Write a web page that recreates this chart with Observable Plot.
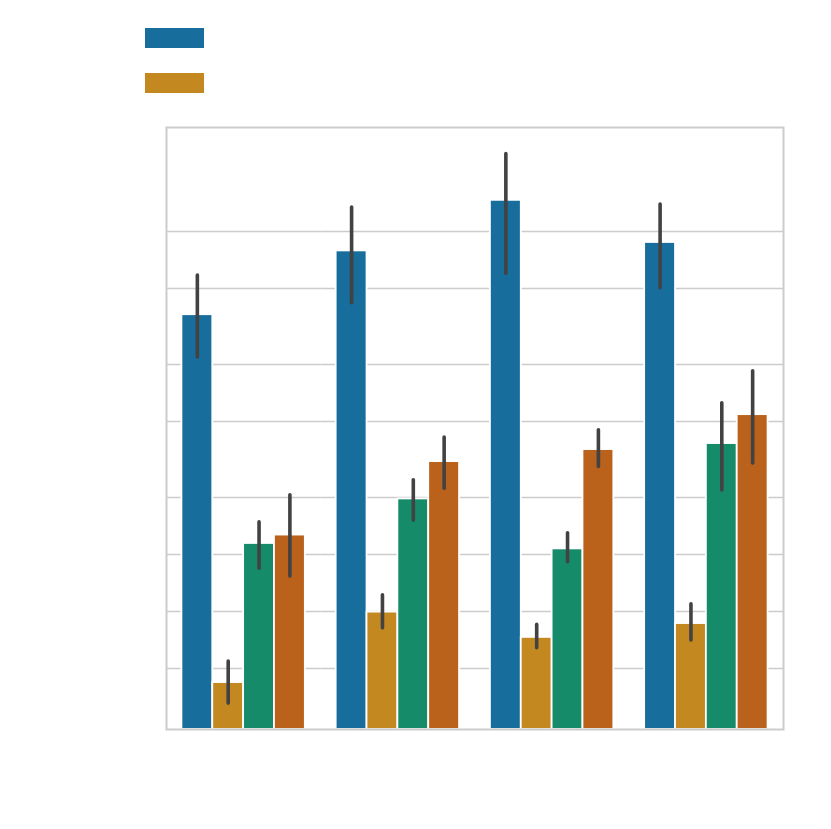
<!DOCTYPE html>
<html>
<head>
<meta charset="utf-8">
<script src="https://cdn.jsdelivr.net/npm/d3@7"></script>
<script src="https://cdn.jsdelivr.net/npm/@observablehq/plot@0.6"></script>
<style>
  html, body { margin: 0; padding: 0; background: #ffffff; }
  #wrap { position: relative; width: 831px; height: 829px; font-family: "DejaVu Sans", sans-serif; }
  #legend { position: absolute; left: 145px; top: 28px; }
  .sw { width: 59px; height: 20px; margin-bottom: 25px; }
</style>
</head>
<body>
<div id="wrap"><div id="legend"></div></div>
<script>
// categories
const groups = ["G1", "G2", "G3", "G4"];
const hues = ["H1", "H2", "H3", "H4"];
const hueColors = ["#176d9c", "#c38820", "#168b6a", "#ba611b"];
const legendHues = ["H1", "H2"];

// bar heights per hue, across groups
const h1Vals = [68.9, 79.5, 87.9, 80.9];
const h2Vals = [7.8, 19.5, 15.3, 17.6];
const h3Vals = [30.9, 38.3, 30.0, 47.5];
const h4Vals = [32.3, 44.5, 46.5, 52.3];

// error bar ranges per hue, across groups
const h1Lo = [61.8, 70.8, 75.7, 73.3];
const h1Hi = [75.4, 86.7, 95.6, 87.2];
const h2Lo = [4.3, 16.8, 13.5, 14.8];
const h2Hi = [11.3, 22.3, 17.4, 20.8];
const h3Lo = [26.7, 34.7, 27.8, 39.7];
const h3Hi = [34.4, 41.4, 32.6, 54.2];
const h4Lo = [25.4, 40.0, 43.6, 44.2];
const h4Hi = [38.9, 48.5, 49.7, 59.5];

// y gridline values
const gridTicks = [10.13, 19.6, 29.07, 38.54, 51.16, 60.63, 73.26, 82.72];

const valsByHue = [h1Vals, h2Vals, h3Vals, h4Vals];
const loByHue = [h1Lo, h2Lo, h3Lo, h4Lo];
const hiByHue = [h1Hi, h2Hi, h3Hi, h4Hi];

const rows = [];
groups.forEach((g, gi) => {
  hues.forEach((h, hi) => {
    rows.push({group: g, hue: h, value: valsByHue[hi][gi], lo: loByHue[hi][gi], hi: hiByHue[hi][gi]});
  });
});

const plot = Plot.plot({
  width: 831,
  height: 829,
  marginTop: 127,
  marginBottom: 100,
  marginLeft: 166,
  marginRight: 48,
  fx: {domain: groups, padding: 0, round: false, axis: null},
  x: {domain: hues, paddingInner: 0, paddingOuter: 0.5, round: false, axis: null},
  y: {domain: [0, 100], axis: null},
  color: {domain: hues, range: hueColors},
  marks: [
    Plot.ruleY(gridTicks, {stroke: "#cccccc", strokeWidth: 1.5}),
    Plot.barY(rows, {fx: "group", x: "hue", y: "value", fill: "hue", stroke: "white", strokeWidth: 1.8}),
    Plot.ruleX(rows, {fx: "group", x: "hue", y1: "lo", y2: "hi", stroke: "#424242", strokeWidth: 3.6, strokeLinecap: "round"}),
    Plot.frame({stroke: "#cccccc", strokeWidth: 2, facet: "super"})
  ]
});

document.getElementById("wrap").appendChild(plot);
const colorScale = plot.scale("color");
const leg = document.getElementById("legend");
legendHues.forEach(h => {
  const d = document.createElement("div");
  d.className = "sw";
  d.style.background = colorScale.apply(h);
  leg.appendChild(d);
});
</script>
</body>
</html>
